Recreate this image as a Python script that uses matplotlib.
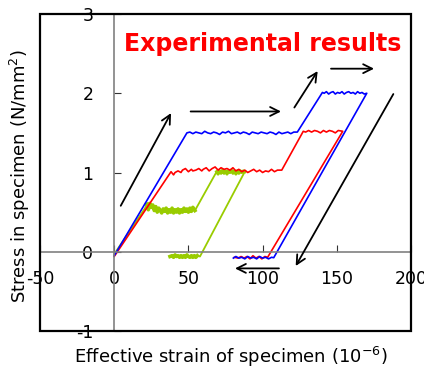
import matplotlib.pyplot as plt
from matplotlib.patches import Rectangle

plt.rcParams['axes.unicode_minus'] = False

# Curves (strain in 1e-6, stress in N/mm2)
blue_x = [0, 49,
          51, 53, 55, 57, 59, 61, 63, 65, 67, 69, 71, 73, 75, 77, 79, 81, 83, 85, 87,
          89, 91, 93, 95, 97, 99, 101, 103, 105, 107, 109, 111, 113, 115, 117, 119, 121, 123.4,
          140.3, 141.5, 143, 144.5, 146, 147.5, 149, 150.5, 152, 153.5, 155, 156.5, 158, 159.5,
          161, 162.5, 164, 165.5, 167, 168.5, 170.2,
          107.5, 106, 104, 102, 100, 98, 96, 94, 92, 90, 88, 86, 84, 82, 80.3]
blue_y = [-0.05, 1.50,
          1.51, 1.49, 1.51, 1.50, 1.49, 1.52, 1.50, 1.49, 1.51, 1.50, 1.48, 1.51, 1.50, 1.52,
          1.49, 1.50, 1.51, 1.49, 1.51, 1.50, 1.48, 1.51, 1.50, 1.49, 1.51, 1.50, 1.49, 1.51,
          1.50, 1.48, 1.51, 1.49, 1.50, 1.51, 1.49, 1.51, 1.51,
          2.01, 2.00, 2.02, 1.99, 2.01, 2.02, 1.99, 2.01, 2.00, 2.02, 1.99, 2.01, 2.02, 2.00,
          2.01, 1.99, 2.02, 2.00, 2.01, 1.99, 2.00,
          -0.075, -0.07, -0.09, -0.07, -0.08, -0.06, -0.09, -0.07, -0.08, -0.06, -0.09, -0.07,
          -0.08, -0.06, -0.08]

red_x = [0, 38.3,
         40, 41, 43, 45, 46, 48, 50, 52, 53, 55, 57, 59, 60, 62, 64, 66, 68, 70, 72, 74,
         76, 78, 80, 82, 84, 86, 88, 90, 92, 94, 96, 98, 100, 102, 104, 106, 108, 110, 112.9,
         127.4, 129, 131, 133, 135, 137, 139, 141, 143, 145, 147, 149, 151, 154,
         103.4, 101.5, 99.5, 97.5, 95.5, 93.5, 91.5, 89.5, 87.5, 85.5, 83.5, 81]
red_y = [-0.06, 1.01,
         0.97, 1.00, 1.02, 1.00, 1.03, 1.05, 1.01, 1.04, 1.02, 1.03, 1.05, 1.02, 1.04, 1.06,
         1.02, 1.05, 1.07, 1.03, 1.06, 1.04, 1.05, 1.03, 1.06, 1.02, 1.04, 1.01, 1.03, 1.00,
         1.02, 1.04, 1.01, 1.03, 1.00, 1.02, 1.01, 1.04, 1.01, 1.03, 1.03,
         1.52, 1.51, 1.53, 1.51, 1.53, 1.52, 1.50, 1.53, 1.51, 1.53, 1.52, 1.50, 1.53, 1.52,
         -0.07, -0.06, -0.09, -0.06, -0.08, -0.05, -0.09, -0.06, -0.08, -0.06, -0.08, -0.07]

green_x = [0, 20.8,
           22, 23, 24, 25, 26, 27, 28, 29, 30, 31, 32, 33, 34, 35, 36, 37, 38, 39, 40, 41,
           42, 43, 44, 45, 46, 47, 48, 49, 50, 51, 52, 53, 54.4,
           69, 70, 71, 72, 73, 74, 75, 76, 77, 78, 79, 80, 81, 82, 83, 84, 85, 86, 87, 88,
           57.8, 56, 55, 54, 53, 52, 51, 50, 49, 48, 47, 46, 45, 44, 43, 42, 41, 40, 39, 37.6]
green_y = [-0.03, 0.55,
           0.60, 0.53, 0.61, 0.56, 0.59, 0.52, 0.57, 0.50, 0.55, 0.52, 0.49, 0.54, 0.51, 0.55,
           0.49, 0.53, 0.50, 0.55, 0.49, 0.53, 0.50, 0.54, 0.49, 0.53, 0.50, 0.55, 0.51, 0.54,
           0.50, 0.55, 0.51, 0.56, 0.52,
           1.01, 0.98, 1.02, 0.99, 1.03, 0.99, 1.02, 0.98, 1.02, 1.00, 1.03, 0.99, 1.02, 0.98,
           1.02, 0.99, 1.02, 1.00, 1.02, 1.01,
           -0.06, -0.05, -0.07, -0.05, -0.07, -0.05, -0.07, -0.06, -0.04, -0.07, -0.05, -0.07,
           -0.05, -0.07, -0.05, -0.06, -0.04, -0.07, -0.05, -0.06]

# arrows: (start x, start y, end x, end y)
arrows = [(4.4, 0.58, 38.3, 1.75),
          (51.5, 1.77, 112.4, 1.77),
          (121.4, 1.82, 137.1, 2.28),
          (146.1, 2.31, 175.1, 2.31),
          (188.1, 1.99, 122.3, -0.18),
          (111.0, -0.21, 81.4, -0.21)]

x_ticks = [-50, 0, 50, 100, 150, 200]
y_ticks = [-1, 0, 1, 2, 3]

fig = plt.figure(figsize=(4.24, 3.72), dpi=100)
ax = fig.add_axes([40/424, 1 - 331/372, 371/424, 317/372])

ax.plot(green_x, green_y, color='#99cc00', lw=1.3)
# the noisy flat parts of the green curve look thicker
ax.plot(green_x[2:35], green_y[2:35], color='#99cc00', lw=2.6)
ax.plot(green_x[35:55], green_y[35:55], color='#99cc00', lw=2.2)
ax.plot(green_x[56:], green_y[56:], color='#99cc00', lw=2.6)
ax.plot(red_x, red_y, color='#ff0000', lw=1.2)
ax.plot(blue_x, blue_y, color='#0000ff', lw=1.2)

for x0, y0, x1, y1 in arrows:
    ax.annotate('', xy=(x1, y1), xytext=(x0, y0),
                arrowprops=dict(arrowstyle='->', color='black', lw=1.3,
                                mutation_scale=16, shrinkA=0, shrinkB=0))

ax.text(6.5, 2.62, 'Experimental results', color='#ff0000', fontsize=17,
        fontweight='bold', va='center', ha='left')

ax.set_xlim(-50, 200)
ax.set_ylim(-1, 3)
ax.set_xticks(x_ticks)
ax.set_yticks(y_ticks)

# gray axes through zero, black frame around
for s in ['top', 'right']:
    ax.spines[s].set_visible(False)
for s in ['left', 'bottom']:
    ax.spines[s].set_position(('data', 0))
    ax.spines[s].set_color('#808080')
    ax.spines[s].set_linewidth(1.2)
ax.add_patch(Rectangle((0, 0), 1, 1, transform=ax.transAxes, fill=False,
                       edgecolor='black', lw=1.6, clip_on=False, zorder=5))

ax.tick_params(axis='both', direction='in', length=5, color='#333333',
               labelsize=12.5)
ax.tick_params(axis='x', pad=13)
ax.tick_params(axis='y', pad=15)

ax.set_xlabel('Effective strain of specimen (10$^{-6}$)', fontsize=13)
ax.set_ylabel('Stress in specimen (N/mm$^2$)', fontsize=13)
ax.xaxis.set_label_coords(0.515, -0.045)
ax.yaxis.set_label_coords(-0.022, 0.49)

fig.savefig('out.png', dpi=100)
